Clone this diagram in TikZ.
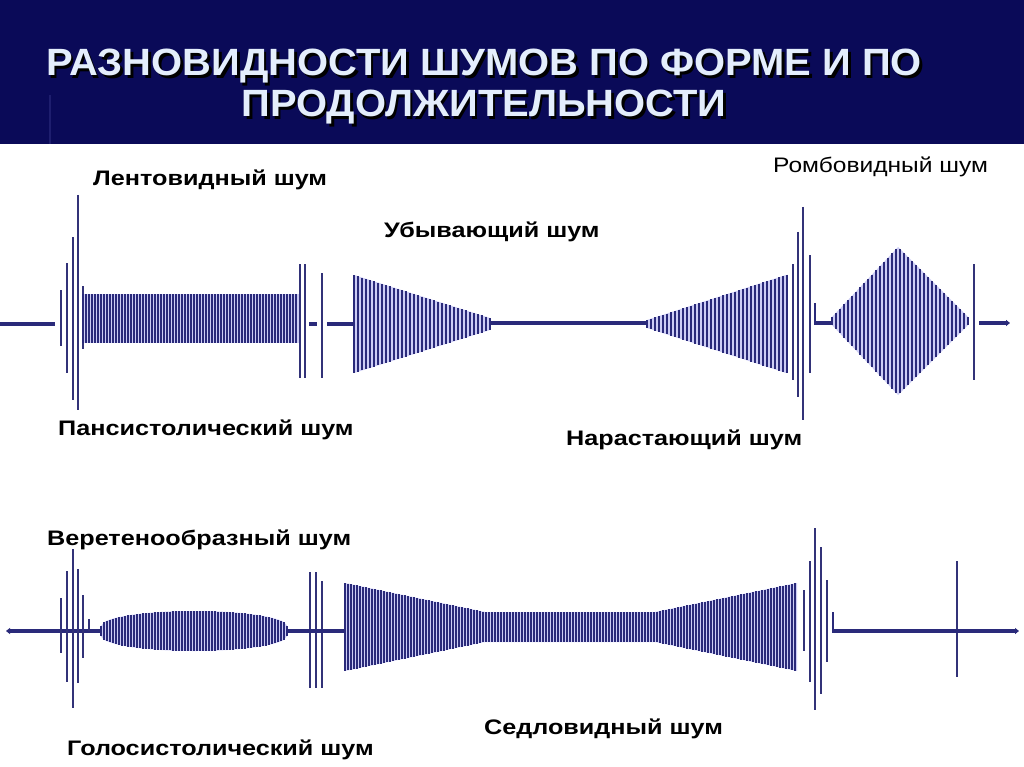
\documentclass[tikz,border=0pt]{standalone}
\usepackage{fontspec}
\setmainfont{Liberation Sans}
\newfontfamily\titlefont[FakeStretch=1.05]{Liberation Sans}
\newfontfamily\lblfont[FakeStretch=1.2]{Liberation Sans}
\newfontfamily\lblfontb[FakeStretch=1.17]{Liberation Sans}
\usetikzlibrary{arrows.meta}
\definecolor{hdr}{RGB}{10,10,88}
\definecolor{hdrline}{RGB}{30,30,110}
\definecolor{wave}{RGB}{42,42,122}
\definecolor{beat}{RGB}{50,50,120}
\definecolor{lav}{RGB}{205,205,245}
\definecolor{ttl}{RGB}{228,238,252}
\tikzset{
  stripe/.style={wave, line width=1.3pt},
  fstripe/.style={wave, line width=1.1pt},
  beatline/.style={beat, line width=1.8pt},
  baseln/.style={wave, line width=4pt},
  lbl/.style={font=\lblfont\bfseries\fontsize{21}{24}\selectfont, anchor=base west, inner sep=0pt, text=black},
  ttlstyle/.style={font=\titlefont\bfseries\fontsize{38}{44}\selectfont, anchor=base, inner sep=0pt},
}
\begin{document}
\begin{tikzpicture}[x=1pt,y=-1pt]
\useasboundingbox (0,0) rectangle (1024,767);
\fill[white] (0,0) rectangle (1024,767);
% header
\fill[hdr] (0,0) rectangle (1024,144);
\draw[hdrline, line width=1.2pt] (50,95) -- (50,144);
\foreach \t/\xx/\yy [count=\i] in {{РАЗНОВИДНОСТИ ШУМОВ ПО ФОРМЕ И ПО}/484/76,{ПРОДОЛЖИТЕЛЬНОСТИ}/484/117}{
  \node[ttlstyle, text=black] (tsh\i) at (\xx+2.5,\yy+2.5) {\t};
  \node[ttlstyle, text=ttl] (t\i) at (\xx,\yy) {\t};
}
% ================= top row =================
\draw[baseln] (0,324) -- (55,324);
\foreach \x/\a/\b in {61/290/346,67/263/373,73/237/400,78/195/410,83/286/349,300/264/378,305/264/378,322/273/378}
  \draw[beatline] (\x,\a) -- (\x,\b);
% ribbon
\fill[lav] (82,294) rectangle (299,343);
\foreach \x in {83,86,...,298} \draw[fstripe] (\x,294) -- (\x,343);
\draw[baseln] (309,324) -- (317,324);
\draw[baseln] (327,324) -- (354,324);
% decrescendo
\fill[lav] (354,275) -- (490,318) -- (490,330) -- (354,373) -- cycle;
\foreach \x in {354,358,...,490}{
  \pgfmathsetmacro\h{49-(\x-354)/136*43}
  \draw[stripe] (\x,{324-\h}) -- (\x,{324+\h});
}
\draw[baseln] (490,323) -- (652,323);
% crescendo
\fill[lav] (647,320) -- (786,275) -- (786,373) -- (647,328) -- cycle;
\foreach \x in {647,651,...,787}{
  \pgfmathsetmacro\h{4+(\x-647)/139*45}
  \draw[stripe] (\x,{324-\h}) -- (\x,{324+\h});
}
\foreach \x/\a/\b in {793/264/380,798/232/397,803/207/420,810/255/373,974/264/380}
  \draw[beatline] (\x,\a) -- (\x,\b);
\draw[wave, line width=1.8pt] (815,303) -- (815,323);
\draw[baseln] (814,323) -- (832,323);
% diamond
\fill[lav] (832,317) -- (898,247) -- (968,317) -- (968,325) -- (898,395) -- (832,325) -- cycle;
\foreach \x in {832,836,...,968}{
  \pgfmathsetmacro\h{(\x<898) ? (4+(\x-832)/66*70) : (4+(968-\x)/70*70)}
  \draw[stripe] (\x,{321-\h}) -- (\x,{321+\h});
}
\draw[baseln, -{Triangle[length=4pt,width=6pt]}] (979,323) -- (1010,323);
% ================= bottom row =================
\draw[baseln, {Triangle[length=4pt,width=6pt]}-] (6,631) -- (100,631);
\foreach \x/\a/\b in {61/598/653,67/571/682,73/549/708,78/569/683,83/595/658,89/619/631,310/572/688,316/572/688,322/581/688}
  \draw[beatline] (\x,\a) -- (\x,\b);
% spindle
\fill[lav] plot[domain=0:1,samples=60] ({101+186*\x},{631-(5+15*sqrt(max(0,1-(2*\x-1)^2)))})
  -- plot[domain=1:0,samples=60] ({101+186*\x},{631+(5+15*sqrt(max(0,1-(2*\x-1)^2)))}) -- cycle;
\foreach \x in {101,104,...,287}{
  \pgfmathsetmacro\h{5+15*sqrt(max(0,1-(2*(\x-101)/186-1)^2))}
  \draw[fstripe] (\x,{631-\h}) -- (\x,{631+\h});
}
\draw[baseln] (287,631) -- (345,631);
% saddle
\fill[lav] (345,583) -- (485,612) -- (655,612) -- (797,583) -- (797,671) -- (655,642) -- (485,642) -- (345,671) -- cycle;
\foreach \x in {345,348,...,797}{
  \pgfmathsetmacro\h{(\x<485) ? (44-(\x-345)/140*29) : ((\x>655) ? (15+(\x-655)/142*29) : 15)}
  \draw[fstripe] (\x,{627-\h}) -- (\x,{627+\h});
}
\foreach \x/\a/\b in {804/590/651,810/561/682,815/528/710,821/547/694,827/580/662,957/561/677}
  \draw[beatline] (\x,\a) -- (\x,\b);
\draw[wave, line width=1.8pt] (833,612) -- (833,631);
\draw[baseln, -{Triangle[length=4pt,width=6pt]}] (832,631) -- (1019,631);
% ================= labels =================
\node[lbl] (l1) at (93,186) {Лентовидный шум};
\node[lbl] (l2) at (384,237) {Убывающий шум};
\node[lbl, font=\lblfontb\fontsize{21}{24}\selectfont, text=black] (l3) at (773,173) {Ромбовидный шум};
\node[lbl] (l4) at (58,435) {Пансистолический шум};
\node[lbl] (l5) at (566,445) {Нарастающий шум};
\node[lbl] (l6) at (47,545) {Веретенообразный шум};
\node[lbl] (l7) at (484,734) {Седловидный шум};
\node[lbl] (l8) at (67,755) {Голосистолический шум};
\end{tikzpicture}
\end{document}
